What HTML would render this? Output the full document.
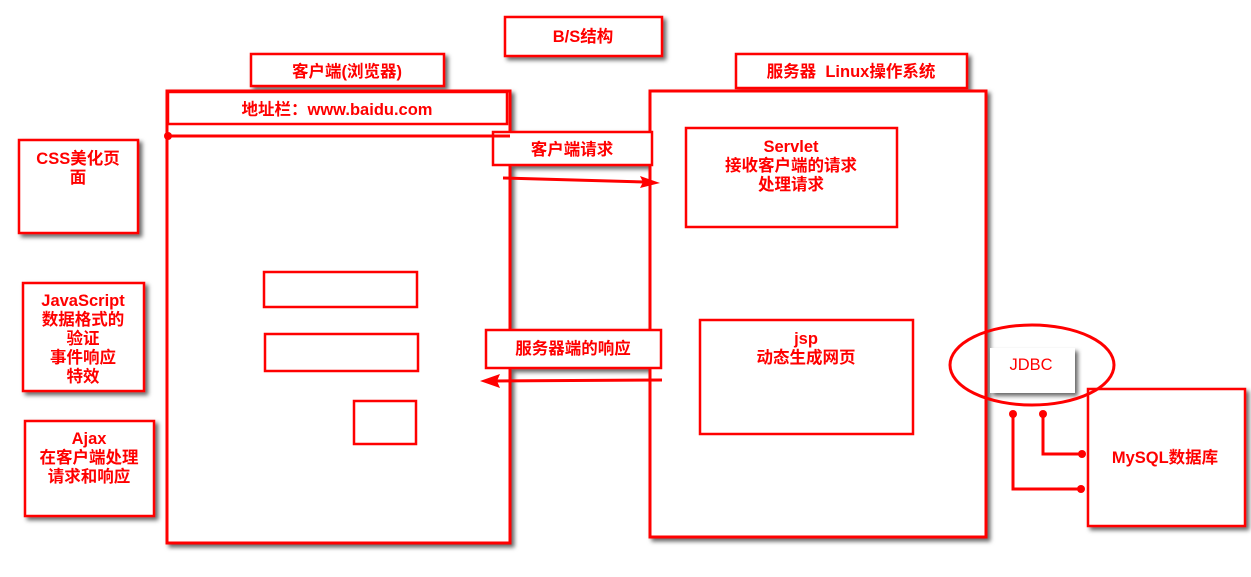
<!DOCTYPE html>
<html><head><meta charset="utf-8"><style>
body{margin:0;background:#fff;}
svg text{font-family:"Liberation Sans","Noto Sans CJK SC",sans-serif;font-weight:bold;fill:#f00;font-size:16.5px;text-anchor:middle;}
</style></head><body>
<svg width="1251" height="572" viewBox="0 0 1251 572" xmlns="http://www.w3.org/2000/svg">
<defs><filter id="s" x="-10%" y="-10%" width="130%" height="130%"><feDropShadow dx="3" dy="3" stdDeviation="2" flood-color="#000" flood-opacity="0.6"/></filter></defs>
<g fill="#fff" stroke="#f00" stroke-width="2.5" filter="url(#s)">
<rect x="505" y="17" width="157" height="39"/>
<rect x="251" y="54" width="193" height="32"/>
<rect x="167" y="91" width="343" height="452" stroke-width="3"/>
<rect x="168" y="92" width="339" height="32"/>
<rect x="736" y="54" width="231" height="34"/>
<rect x="650" y="91" width="336" height="446" stroke-width="3"/>
<rect x="686" y="128" width="211" height="99"/>
<rect x="700" y="320" width="213" height="114"/>
<rect x="493" y="132" width="159" height="33"/>
<rect x="486" y="330" width="175" height="38"/>
<rect x="264" y="272" width="153" height="35"/>
<rect x="265" y="334" width="153" height="37"/>
<rect x="354" y="401" width="62" height="43"/>
<rect x="19" y="140" width="119" height="93"/>
<rect x="23" y="283" width="121" height="108"/>
<rect x="25" y="421" width="129" height="95"/>
<rect x="1088" y="389" width="157" height="137"/>
<rect x="990" y="348" width="85" height="45" stroke="none"/>
</g>
<line x1="167" y1="136" x2="510" y2="136" stroke="#f00" stroke-width="3"/>
<circle cx="168" cy="136" r="4" fill="#f00"/>
<line x1="503" y1="178" x2="645" y2="182" stroke="#f00" stroke-width="3"/>
<polygon points="660,183 640,176 643,182 640,188" fill="#f00"/>
<line x1="662" y1="380" x2="495" y2="381" stroke="#f00" stroke-width="3"/>
<polygon points="480,381 500,374 497,381 500,388" fill="#f00"/>
<ellipse cx="1032" cy="365" rx="82" ry="40" fill="none" stroke="#f00" stroke-width="3"/>
<polyline points="1013,414 1013,489 1081,489" fill="none" stroke="#f00" stroke-width="3"/>
<polyline points="1043,414 1043,454 1082,454" fill="none" stroke="#f00" stroke-width="3"/>
<g fill="#f00"><circle cx="1013" cy="414" r="4"/><circle cx="1043" cy="414" r="4"/><circle cx="1081" cy="489" r="4"/><circle cx="1082" cy="454" r="4"/></g>
<text x="583" y="42">B/S结构</text>
<text x="347" y="77">客户端(浏览器)</text>
<text x="337" y="115">地址栏：www.baidu.com</text>
<text x="851" y="77" xml:space="preserve">服务器  Linux操作系统</text>
<text x="572" y="155">客户端请求</text>
<text x="573" y="354">服务器端的响应</text>
<text x="791" y="152">Servlet</text>
<text x="791" y="171">接收客户端的请求</text>
<text x="791" y="190">处理请求</text>
<text x="806" y="344">jsp</text>
<text x="806" y="363">动态生成网页</text>
<text x="78" y="164">CSS美化页</text>
<text x="78" y="183">面</text>
<text x="83" y="306">JavaScript</text>
<text x="83" y="325">数据格式的</text>
<text x="83" y="344">验证</text>
<text x="83" y="363">事件响应</text>
<text x="83" y="382">特效</text>
<text x="89" y="444">Ajax</text>
<text x="89" y="463">在客户端处理</text>
<text x="89" y="482">请求和响应</text>
<text x="1031" y="370" style="font-weight:normal">JDBC</text>
<text x="1165" y="463">MySQL数据库</text>
</svg>
</body></html>
